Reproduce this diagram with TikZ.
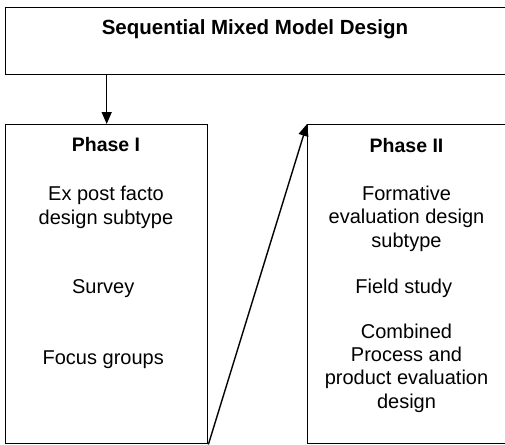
\documentclass[tikz,border=0pt]{standalone}
\usepackage{fontspec}
\setmainfont{Liberation Sans}
\usetikzlibrary{arrows.meta}

\tikzset{
  box/.style={draw, line width=1.4pt, rectangle, inner sep=0pt},
  phasetitle/.style={anchor=base, font=\fontsize{19.5}{23.3}\selectfont\bfseries},
  phasetext/.style={anchor=base, align=center, font=\fontsize{20}{23.3}\selectfont},
  arr/.style={line width=1.4pt, -{Triangle[length=12pt, width=10pt]}}
}

\begin{document}
\begin{tikzpicture}[x=1pt, y=-1pt]

  \useasboundingbox (0, 0) rectangle (505, 444);

  % top box
  \node[box, anchor=north west, minimum width=501pt, minimum height=67pt]
    (design) at (5, 7) {};
  \node[phasetitle, font=\fontsize{20.5}{24}\selectfont\bfseries]
    (designtitle) at (255, 35) { Sequential Mixed Model Design };

  % (multi-line nodes sit on the baseline of their last line)
  \begin{scope}[shift={(0, 0)}]

    \node[box, anchor=north west, minimum width=202pt, minimum height=319pt]
      (phaseI) at (5, 124) {};

    \node[phasetitle] (phaseItitle) at (106, 151) { Phase I };
    \node[phasetext] (expost) at (106, 224)
      { Ex post facto\\design subtype };
    \node[phasetext] (survey) at (106, 293) { Survey };
    \node[phasetext] (focus) at (106, 364) { Focus groups };

  \end{scope}

  \begin{scope}[shift={(0, 0)}]

    \node[box, anchor=north west, minimum width=199pt, minimum height=319pt]
      (phaseII) at (307, 124) {};

    \node[phasetitle] (phaseIItitle) at (406.5, 152) { Phase II };
    \node[phasetext] (formative) at (406.5, 247)
      { Formative\\evaluation design\\subtype };
    \node[phasetext] (field) at (406.5, 293) { Field study };
    \node[phasetext] (combined) at (406.5, 408)
      { Combined\\Process and\\product evaluation\\design };

  \end{scope}

  \draw[arr] (phaseI.north |- design.south) -- (phaseI.north);
  \draw[arr] (phaseI.south east) -- (phaseII.north west);

\end{tikzpicture}
\end{document}
